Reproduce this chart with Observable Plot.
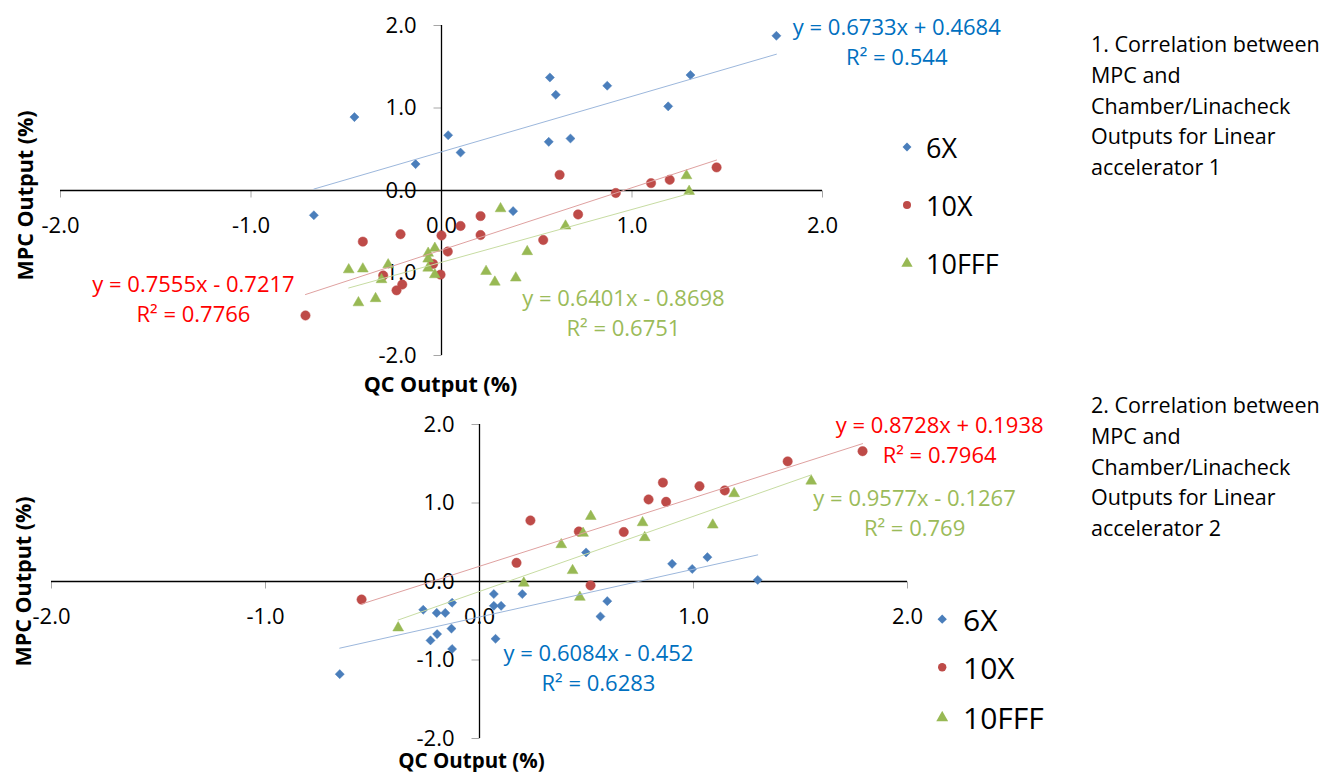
<!DOCTYPE html>
<html>
<head>
<meta charset="utf-8">
<script src="https://cdn.jsdelivr.net/npm/d3@7"></script>
<script src="https://cdn.jsdelivr.net/npm/@observablehq/plot@0.6"></script>
<style>
  html, body { margin: 0; padding: 0; background: #fff; }
  #root { position: relative; width: 1334px; height: 772px; overflow: hidden; font-family: "Open Sans", sans-serif; }
  .panel { position: absolute; left: 0; }
  .legend { position: absolute; }
  .legend .row { position: absolute; display: flex; align-items: center; white-space: nowrap; color: #000; }
  .note { position: absolute; left: 1091px; font-size: 21.5px; line-height: 30.8px; color: #000; white-space: nowrap; }
</style>
</head>
<body>
<div id="root"></div>
<script>
// ---------- data ----------
const seriesNames = ["6X", "10X", "10FFF"];
const xTicks = [-2, -1, 0, 1, 2];
const yTicks = [-2, -1, 0, 1, 2];

// Linear accelerator 1 : [QC output, MPC output]
const linac1_6X = [[-0.457,0.89],[-0.136,0.32],[0.035,0.67],[0.10,0.46],[0.569,1.37],[0.60,1.16],[0.563,0.59],[0.677,0.63],[0.87,1.27],[1.307,1.40],[1.19,1.02],[1.758,1.875],[-0.67,-0.30],[0.376,-0.25]];
const linac1_10X = [[0.62,0.19],[1.444,0.28],[1.198,0.13],[1.10,0.09],[0.915,-0.03],[0.205,-0.31],[0.10,-0.43],[0.0,-0.545],[-0.215,-0.53],[-0.413,-0.62],[0.205,-0.54],[0.534,-0.60],[0.717,-0.29],[0.033,-0.74],[-0.044,-0.89],[-0.005,-1.02],[-0.306,-1.03],[-0.206,-1.14],[-0.236,-1.21],[-0.714,-1.515]];
const linac1_10FFF = [[0.31,-0.22],[0.651,-0.43],[0.45,-0.74],[0.234,-0.98],[0.28,-1.11],[0.39,-1.06],[-0.035,-0.70],[-0.07,-0.76],[-0.07,-0.83],[-0.07,-0.94],[-0.035,-1.02],[-0.28,-0.90],[-0.315,-1.08],[-0.487,-0.96],[-0.413,-0.95],[-0.436,-1.36],[-0.346,-1.31],[1.286,0.18],[1.30,-0.01]];

// Linear accelerator 2
const linac2_6X = [[0.498,0.37],[0.067,-0.16],[0.20,-0.16],[0.90,0.225],[0.994,0.16],[1.065,0.31],[1.30,0.02],[0.597,-0.25],[0.565,-0.445],[0.067,-0.31],[0.101,-0.31],[0.075,-0.73],[-0.128,-0.27],[-0.263,-0.36],[-0.20,-0.40],[-0.16,-0.40],[-0.131,-0.60],[-0.198,-0.67],[-0.229,-0.75],[-0.128,-0.86],[-0.653,-1.18]];
const linac2_10X = [[0.238,0.777],[0.464,0.637],[0.173,0.238],[0.519,-0.05],[-0.551,-0.23],[0.674,0.63],[1.79,1.66],[1.44,1.53],[1.028,1.214],[1.146,1.16],[0.857,1.26],[0.79,1.045],[0.872,1.015]];
const linac2_10FFF = [[0.52,0.83],[0.484,0.615],[0.382,0.47],[0.435,0.14],[0.207,-0.02],[0.469,-0.20],[-0.38,-0.59],[1.55,1.28],[1.19,1.12],[1.09,0.72],[0.762,0.75],[0.772,0.56]];

// Trendline equations (slope, intercept, R²) per series
const linac1_slope = [0.6733, 0.7555, 0.6401];
const linac1_intercept = [0.4684, -0.7217, -0.8698];
const linac1_r2 = ["0.544", "0.7766", "0.6751"];
const linac2_slope = [0.6084, 0.8728, 0.9577];
const linac2_intercept = [-0.452, 0.1938, -0.1267];
const linac2_r2 = ["0.6283", "0.7964", "0.769"];

// Equation label anchor positions (data units)
const linac1_labelPos = [[2.39, 1.82], [-1.302, -1.297], [0.955, -1.467]];
const linac2_labelPos = [[0.556, -1.083], [2.15, 1.82], [2.033, 0.89]];

const xTitle = "QC Output (%)";
const yTitle = "MPC Output (%)";
const notes = [
  ["1. Correlation between", "MPC and", "Chamber/Linacheck", "Outputs for Linear", "accelerator 1"],
  ["2. Correlation between", "MPC and", "Chamber/Linacheck", "Outputs for Linear", "accelerator 2"]
];

// ---------- styles ----------
const pointColors = ["#4a7ebb", "#be4b48", "#98b954"];
const lineColors = ["#9cb7dc", "#dfa1a0", "#c7dca2"];
const labelColors = ["#0070c0", "#ff0000", "#9bbb59"];
const symbols = ["diamond2", "circle", "triangle"];
const radii = [4.1, 4.7, 4.0];

const tickDown = { draw(ctx) { ctx.moveTo(0, 0); ctx.lineTo(0, 7); } };
const tickLeft = { draw(ctx) { ctx.moveTo(0, 0); ctx.lineTo(-8, 0); } };

function fmtEq(m, b) {
  const sign = b < 0 ? " - " : " + ";
  return `y = ${m}x${sign}${Math.abs(b)}`;
}

function makeChart(cfg) {
  const { sets, slope, intercept, r2, labelPos, width, height, mL, mR, mT, mB, xtDx, xtDy, ytDx, ytDy, xtSize } = cfg;
  const marks = [];
  // tick labels
  marks.push(Plot.text(yTicks, { x: () => 0, y: d => d, text: d => d.toFixed(1), textAnchor: "end", lineAnchor: "middle", dx: -25, fontSize: 22, fill: "#000" }));
  marks.push(Plot.text(xTicks, { x: d => d, y: () => 0, text: d => d.toFixed(1), textAnchor: "middle", lineAnchor: "middle", dy: 35, fontSize: 22, fill: "#000" }));
  // small tick marks
  marks.push(Plot.dot(xTicks, { x: d => d, y: () => 0, symbol: tickDown, stroke: "#a6a6a6", fill: "none", strokeWidth: 1 }));
  marks.push(Plot.dot(yTicks, { x: () => 0, y: d => d, symbol: tickLeft, stroke: "#a6a6a6", fill: "none", strokeWidth: 1 }));
  // axis lines through origin
  marks.push(Plot.ruleY([0], { stroke: "#000", strokeWidth: 1.3 }));
  marks.push(Plot.ruleX([0], { stroke: "#000", strokeWidth: 1.3 }));
  // points
  sets.forEach((pts, i) => {
    marks.push(Plot.dot(pts, { x: d => d[0], y: d => d[1], symbol: symbols[i], r: radii[i], fill: pointColors[i], stroke: pointColors[i], strokeWidth: 0.5 }));
  });
  // trendlines
  sets.forEach((pts, i) => {
    const [x0, x1] = d3.extent(pts, d => d[0]);
    const seg = [x0, x1].map(x => ({ x, y: slope[i] * x + intercept[i] }));
    marks.push(Plot.line(seg, { x: "x", y: "y", stroke: lineColors[i], strokeWidth: 1 }));
  });
  // equation labels
  const labels = seriesNames.map((s, i) => ({ x: labelPos[i][0], y: labelPos[i][1], text: fmtEq(slope[i], intercept[i]) + "\nR² = " + r2[i], i }));
  marks.push(Plot.text(labels, { x: "x", y: "y", text: "text", fill: d => labelColors[d.i], fontSize: 22, lineHeight: 1.37, textAnchor: "middle", lineAnchor: "middle" }));
  // axis titles
  marks.push(Plot.text([xTitle], { frameAnchor: "bottom", text: d => d, dx: xtDx, dy: xtDy, fontSize: xtSize, fontWeight: "bold", textAnchor: "middle", lineAnchor: "middle", fill: "#000" }));
  marks.push(Plot.text([yTitle], { frameAnchor: "left", text: d => d, rotate: -90, dx: ytDx, dy: ytDy, fontSize: 21.5, fontWeight: "bold", textAnchor: "middle", lineAnchor: "middle", fill: "#000" }));

  return Plot.plot({
    width, height,
    marginLeft: mL, marginRight: mR, marginTop: mT, marginBottom: mB,
    x: { domain: [-2, 2], axis: null },
    y: { domain: [-2, 2], axis: null },
    style: { background: "transparent", fontFamily: "'Open Sans', sans-serif", overflow: "visible" },
    marks
  });
}

function makeLegend(markerX, textX, yCenters, fontSize, markerR) {
  const div = document.createElement("div");
  div.className = "legend";
  div.style.left = "0px"; div.style.top = "0px";
  seriesNames.forEach((name, i) => {
    const row = document.createElement("div");
    row.className = "row";
    const lh = Math.round(fontSize * 1.3);
    row.style.left = (markerX - markerR - 2) + "px";
    row.style.top = (yCenters[i] - lh / 2) + "px";
    row.style.height = lh + "px";
    row.style.fontSize = fontSize + "px";
    row.style.lineHeight = lh + "px";
    const svgNS = "http://www.w3.org/2000/svg";
    const s = document.createElementNS(svgNS, "svg");
    const w = markerR * 2 + 4;
    s.setAttribute("width", w); s.setAttribute("height", w);
    s.style.flex = "none";
    const g = document.createElementNS(svgNS, "path");
    const sym = [d3.symbolDiamond2, d3.symbolCircle, d3.symbolTriangle][i];
    g.setAttribute("d", d3.symbol(sym, Math.PI * markerR * markerR * (i === 2 ? 1.1 : 1))());
    g.setAttribute("transform", `translate(${w / 2},${w / 2 + (i === 2 ? 0.5 : 0)})`);
    g.setAttribute("fill", pointColors[i]);
    s.appendChild(g);
    row.appendChild(s);
    const t = document.createElement("span");
    t.textContent = name;
    t.style.marginLeft = (textX - markerX - w / 2) + "px";
    row.appendChild(t);
    div.appendChild(row);
  });
  return div;
}

function makeNote(lines, top) {
  const div = document.createElement("div");
  div.className = "note";
  div.style.top = top + "px";
  div.innerHTML = lines.map(l => `<div>${l}</div>`).join("");
  return div;
}

const root = document.getElementById("root");

const top1 = makeChart({
  sets: [linac1_6X, linac1_10X, linac1_10FFF],
  slope: linac1_slope, intercept: linac1_intercept, r2: linac1_r2, labelPos: linac1_labelPos,
  width: 1060, height: 400, mL: 60, mR: 238, mT: 25, mB: 45,
  xtDx: -1, xtDy: 30, ytDx: -34, ytDy: 5, xtSize: 21.5
});
top1.classList.add("panel");
top1.style.top = "0px";
root.appendChild(top1);

const bot = makeChart({
  sets: [linac2_6X, linac2_10X, linac2_10FFF],
  slope: linac2_slope, intercept: linac2_intercept, r2: linac2_r2, labelPos: linac2_labelPos,
  width: 1060, height: 382, mL: 51, mR: 153, mT: 34, mB: 34,
  xtDx: -8, xtDy: 23, ytDx: -27, ytDy: 0, xtSize: 20.5
});
bot.classList.add("panel");
bot.style.top = "390px";
root.appendChild(bot);

root.appendChild(makeLegend(907, 926, [147, 205, 263], 27, 4));
root.appendChild(makeLegend(942, 963, [619, 667, 717], 30, 4.2));

root.appendChild(makeNote(notes[0], 29));
root.appendChild(makeNote(notes[1], 390));
</script>
</body>
</html>
